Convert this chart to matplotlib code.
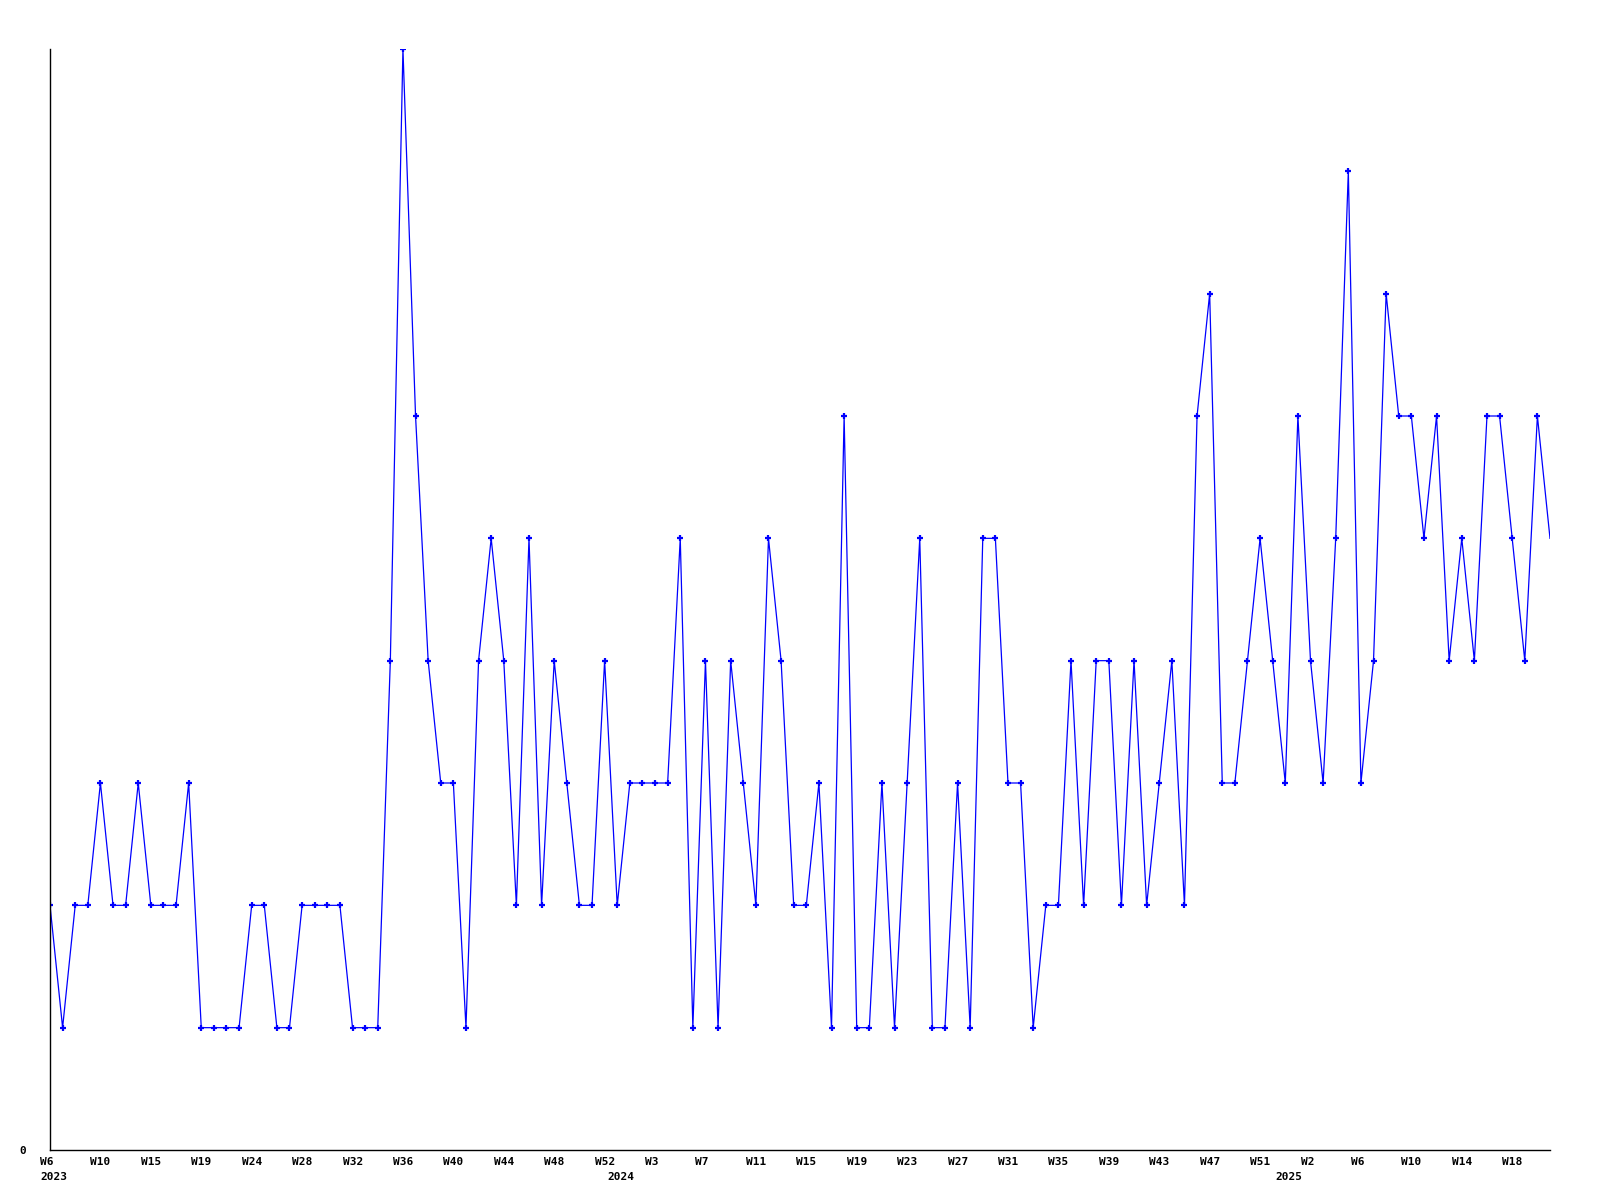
import matplotlib
matplotlib.use('Agg')
import matplotlib.pyplot as plt
from matplotlib.transforms import ScaledTranslation

values = [2, 1, 2, 2, 3, 2, 2, 3, 2, 2, 2, 3, 1, 1, 1, 1, 2, 2, 1, 1,
          2, 2, 2, 2, 1, 1, 1, 4, 9, 6, 4, 3, 3, 1, 4, 5, 4, 2, 5, 2,
          4, 3, 2, 2, 4, 2, 3, 3, 3, 3, 5, 1, 4, 1, 4, 3, 2, 5, 4, 2,
          2, 3, 1, 6, 1, 1, 3, 1, 3, 5, 1, 1, 3, 1, 5, 5, 3, 3, 1, 2,
          2, 4, 2, 4, 4, 2, 4, 2, 3, 4, 2, 6, 7, 3, 3, 4, 5, 4, 3, 6,
          4, 3, 5, 8, 3, 4, 7, 6, 6, 5, 6, 4, 5, 4, 6, 6, 5, 4, 6, 5]
week_labels = ['W6', 'W10', 'W15', 'W19', 'W24', 'W28', 'W32', 'W36', 'W40', 'W44',
               'W48', 'W52', 'W3', 'W7', 'W11', 'W15', 'W19', 'W23', 'W27', 'W31',
               'W35', 'W39', 'W43', 'W47', 'W51', 'W2', 'W6', 'W10', 'W14', 'W18']
years = ['2023', '2024', '2025']
year_idx = [0, 45, 98]

plt.rcParams['font.family'] = 'DejaVu Sans Mono'
plt.rcParams['font.weight'] = 'bold'

fig = plt.figure(figsize=[16, 12], dpi=100)
ax = fig.add_axes([50 / 1600, 50 / 1200, 1500 / 1600, 1101 / 1200])

x = list(range(len(values)))
ax.plot(x, values, color='#0000ff', lw=0.9, marker='+', ms=4, mew=1.6,
        markevery=list(range(len(values) - 1)))

ax.set_xlim(0, len(values) - 1)
ax.set_ylim(0, 9)

for s in ['top', 'right']:
    ax.spines[s].set_visible(False)
for s in ['left', 'bottom']:
    ax.spines[s].set_linewidth(1.0)
    ax.spines[s].set_color('black')

ax.set_yticks([0])
ax.set_yticklabels(['0'], fontsize=8, fontweight='bold')
ax.tick_params(axis='y', length=0, pad=17)

ax.set_xticks(x[::4])
ax.set_xticklabels(week_labels, fontsize=8, fontweight='bold', ha='left')
ax.tick_params(axis='x', length=0, pad=5)
shift = ScaledTranslation(-10 / 100, 0, fig.dpi_scale_trans)
for lab in ax.get_xticklabels():
    lab.set_transform(lab.get_transform() + shift)

for yr, i in zip(years, year_idx):
    ax.annotate(yr, xy=(i, 0), xycoords=('data', 'axes fraction'),
                xytext=(-7.2, -19.5), textcoords='offset points',
                ha='left', va='center', fontsize=8, fontweight='bold')

fig.savefig('out.png', dpi=100)
